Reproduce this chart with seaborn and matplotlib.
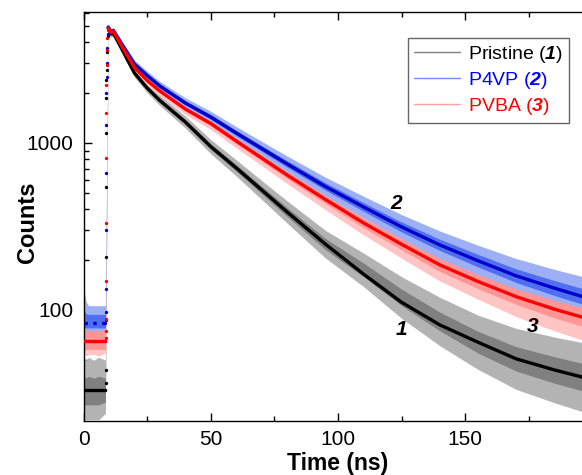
import numpy as np
import matplotlib
matplotlib.use("Agg")
import matplotlib.pyplot as plt
import matplotlib.ticker as mticker
from matplotlib.lines import Line2D
import seaborn as sns

# ---- values ----
# decay part of the fitted curves (time in ns, counts)
fit_t = [9.7, 10.8, 11.7, 15, 20, 25, 30, 40, 50, 60, 70, 80, 95, 110, 125, 140, 155, 170, 185, 197]
fit_pristine = [4880, 4500, 4558, 3670, 2626, 2135, 1797, 1336, 951, 709, 523, 386, 248, 164, 111, 81.3, 64, 50.9, 43.7, 39.2]
fit_p4vp = [4950, 4630, 4717, 3915, 2972, 2537, 2194, 1736, 1431, 1148, 927, 749, 549, 414, 314, 245, 197, 160, 135, 119]
fit_pvba = [4880, 4580, 4686, 3809, 2832, 2367, 2048, 1598, 1309, 1028, 813, 643, 459, 332, 247, 186, 148, 120, 101, 89.5]

# flat background level of the fits before the pulse
base_t = [0, 8.6]
base_pristine = [33, 33]
base_p4vp = [84, 84]
base_pvba = [65, 65]

# fit points on the rising edge (drawn as dots)
rise_t_pristine = [8.6, 8.65, 8.7, 8.8, 8.85, 8.9, 8.95, 9.0, 9.1, 9.3, 9.5]
rise_pristine = [33, 36.7, 43.7, 208, 545, 1150, 1850, 2380, 2730, 3500, 4400]
rise_t_p4vp = [8.6, 8.7, 8.75, 8.8, 8.85, 8.9, 8.95, 9.0, 9.1, 9.2, 9.35, 9.5]
rise_p4vp = [84, 87, 97, 133, 300, 660, 1280, 1980, 2490, 3000, 3700, 4500]
rise_t_pvba = [8.6, 8.65, 8.7, 8.75, 8.8, 8.85, 8.9, 8.95, 9.0, 9.1, 9.2, 9.3, 9.5]
rise_pvba = [65, 68, 75, 88, 148, 330, 813, 1510, 2220, 2930, 3600, 4240, 4750]

# measured (noisy) decays: envelope of the spikes and of the dense core
data_t = [0.2, 1, 2, 4, 6, 8.6] + fit_t
pristine_hi = [52, 50, 52, 50, 52, 50, 5063, 4707, 4763, 3857, 2784, 2278, 1928, 1451, 1048, 793, 596, 450, 300, 219, 158, 119, 93, 77.5, 68.8, 63.3]
pristine_lo = [22, 22, 22, 22, 22, 24, 4646, 4302, 4362, 3492, 2477, 2001, 1675, 1230, 863, 634, 459, 331, 205, 138, 89, 61, 44, 33.4, 27.8, 24.3]
pristine_core_hi = [40, 39, 40, 39, 40, 39, 4932, 4580, 4640, 3743, 2689, 2191, 1849, 1380, 989, 742, 551, 410, 268, 191, 133, 97, 74.4, 60.2, 52.4, 47.5]
pristine_core_lo = [27, 27, 27, 27, 27, 28, 4769, 4420, 4477, 3598, 2564, 2081, 1746, 1293, 914, 678, 496, 363, 230, 158, 106, 75, 55.1, 43, 36.4, 32.4]

p4vp_hi = [132, 112, 106, 106, 106, 106, 5135, 4835, 4928, 4107, 3140, 2693, 2339, 1866, 1549, 1254, 1023, 836, 624, 480, 372, 297, 244, 203, 175, 157]
p4vp_lo = [72, 72, 72, 73, 72, 73, 4714, 4434, 4515, 3732, 2813, 2390, 2058, 1615, 1322, 1051, 840, 671, 483, 357, 265, 202, 159, 126, 104, 90.4]
p4vp_core_hi = [100, 95, 94, 94, 94, 94, 5005, 4712, 4800, 3991, 3038, 2598, 2251, 1787, 1477, 1189, 964, 783, 578, 439, 336, 265, 215, 176, 150, 133]
p4vp_core_lo = [78, 78, 78, 78, 78, 78, 4836, 4550, 4635, 3841, 2907, 2477, 2139, 1687, 1386, 1108, 891, 717, 522, 390, 293, 227, 181, 146, 122, 107]

pvba_hi = [86, 85, 85, 85, 85, 85, 5063, 4783, 4896, 3999, 2996, 2518, 2188, 1722, 1422, 1129, 903, 724, 528, 391, 299, 232, 189, 158, 136, 123]
pvba_lo = [54, 53, 54, 54, 53, 55, 4646, 4385, 4485, 3628, 2677, 2225, 1917, 1483, 1205, 936, 732, 571, 399, 282, 204, 149, 116, 91.2, 74.9, 65.2]
pvba_core_hi = [76, 75, 75, 75, 75, 75, 4934, 4661, 4769, 3884, 2897, 2426, 2103, 1647, 1353, 1067, 848, 674, 485, 355, 267, 203, 163, 134, 114, 102]
pvba_core_lo = [58, 58, 58, 58, 58, 58, 4767, 4500, 4604, 3736, 2769, 2309, 1994, 1551, 1266, 990, 779, 613, 434, 311, 229, 170, 134, 108, 89.6, 78.8]

legend_labels = [r'Pristine ($\mathbfit{1}$)', r'P4VP ($\mathbfit{2}$)', r'PVBA ($\mathbfit{3}$)']
curve_tags = ['1', '2', '3']
tag_t = [124.9, 122.9, 176.3]
tag_counts = [75.8, 431, 79]

# ---- style ----
sns.set_style("ticks")
plt.rcParams['font.family'] = ['Liberation Sans', 'DejaVu Sans']
plt.rcParams['mathtext.fontset'] = 'custom'
plt.rcParams['mathtext.rm'] = 'Liberation Sans'
plt.rcParams['mathtext.it'] = 'Liberation Sans:italic'
plt.rcParams['mathtext.bf'] = 'Liberation Sans:bold'
plt.rcParams['mathtext.bfit'] = 'Liberation Sans:italic:bold'
for key in ['axes.edgecolor', 'axes.labelcolor', 'text.color', 'xtick.color', 'ytick.color']:
    plt.rcParams[key] = 'black'

col = {
    'pristine': dict(spike='#b3b3b3', core='#808080', fit='#000000', leg='#808080', txt='#000000'),
    'p4vp': dict(spike='#9db0f6', core='#4f6ff0', fit='#0000cc', leg='#6f8ff7', txt='#0000ff'),
    'pvba': dict(spike='#ffc4c4', core='#ff9595', fit='#ff0000', leg='#ffa0a0', txt='#ff0000'),
}

fig = plt.figure(figsize=(5.82, 4.75), dpi=100)
ax = fig.add_axes([0.1435, 0.1137, 0.8746, 0.861])

# noisy measurements as bands
bands = [
    ('pristine', pristine_lo, pristine_hi, pristine_core_lo, pristine_core_hi),
    ('pvba', pvba_lo, pvba_hi, pvba_core_lo, pvba_core_hi),
    ('p4vp', p4vp_lo, p4vp_hi, p4vp_core_lo, p4vp_core_hi),
]
for name, lo, hi, clo, chi in bands:
    ax.fill_between(data_t, lo, hi, color=col[name]['spike'], lw=0, zorder=1)
    ax.fill_between(data_t, clo, chi, color=col[name]['core'], lw=0, zorder=1.5)

# fitted curves
fits = [
    ('pristine', base_pristine, rise_t_pristine, rise_pristine, fit_pristine, '-'),
    ('p4vp', base_p4vp, rise_t_p4vp, rise_p4vp, fit_p4vp, ':'),
    ('pvba', base_pvba, rise_t_pvba, rise_pvba, fit_pvba, '-'),
]
for name, base, rt, rv, fv, bstyle in fits:
    c = col[name]['fit']
    ax.plot(base_t, base, color=c, lw=2.4, ls=bstyle, zorder=3)
    ax.plot(rt, rv, ls='none', marker='o', ms=2.4, mec='none', mfc=c, zorder=3)
    sns.lineplot(x=fit_t, y=fv, ax=ax, color=c, lw=2.4, zorder=3, estimator=None, sort=False)

for tag, tx, ty in zip(curve_tags, tag_t, tag_counts):
    ax.text(tx, ty, tag, fontsize=15, fontweight='bold', fontstyle='italic',
            ha='center', va='center', zorder=5)

ax.set_yscale('log')
ax.set_xlim(0, 200)
ax.set_ylim(21.6, 6090)
ax.set_xticks([0, 50, 100, 150])
ax.set_xticks([25, 75, 125, 175], minor=True)
ax.set_yticks([100, 1000])
ax.set_yticklabels(['100', '1000'])
ax.yaxis.set_minor_locator(mticker.LogLocator(base=10, subs=np.arange(2, 10)))
ax.yaxis.set_minor_formatter(mticker.NullFormatter())
ax.tick_params(which='both', direction='in', top=True, right=False, width=1)
ax.tick_params(which='major', length=6, labelsize=15)
ax.tick_params(axis='x', which='major', pad=6.5)
ax.tick_params(axis='y', which='major', pad=7.5)
ax.tick_params(which='minor', length=3.5)
for sp in ax.spines.values():
    sp.set_linewidth(1)

ax.set_xlabel('Time (ns)', fontsize=16.5, fontweight='bold', labelpad=2)
ax.set_ylabel('Counts', fontsize=17, fontweight='bold')
ax.yaxis.set_label_coords(-0.0884, 0.4865)

handles = [Line2D([], [], color=col[n]['leg'], lw=1) for n in ['pristine', 'p4vp', 'pvba']]
leg = ax.legend(handles, legend_labels, loc='upper right', bbox_to_anchor=(0.954, 0.936),
                borderaxespad=0, fontsize=14, frameon=True, fancybox=False,
                edgecolor='#404040', handlelength=2.4, handletextpad=0.4,
                borderpad=0.3, labelspacing=0.25)
leg.get_frame().set_linewidth(1)
leg.set_zorder(6)
for txt, n in zip(leg.get_texts(), ['pristine', 'p4vp', 'pvba']):
    txt.set_color(col[n]['txt'])

fig.savefig('out.png', dpi=100)
